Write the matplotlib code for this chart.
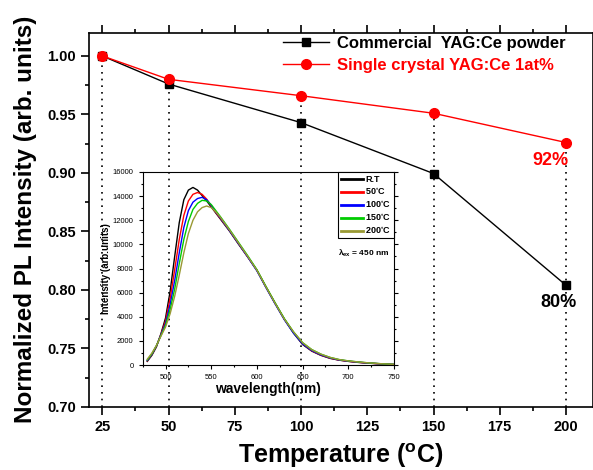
import matplotlib
matplotlib.use('Agg')
import matplotlib.pyplot as plt
from matplotlib.ticker import MultipleLocator

plt.rcParams['font.family'] = ['Liberation Sans', 'DejaVu Sans']
plt.rcParams['mathtext.default'] = 'regular'

# Données principales (intensité PL normalisée)
temps = [25, 50, 100, 150, 200]
commercial = [1.000, 0.976, 0.943, 0.8995, 0.804]
single_crystal = [1.000, 0.980, 0.966, 0.951, 0.926]

# Spectres de l'encart
wl = [480, 485, 490, 495, 500, 505, 510, 515, 520, 525, 530, 535, 540, 545,
      550, 555, 560, 570, 580, 590, 600, 610, 620, 630, 640, 650, 660, 670,
      680, 690, 700, 710, 720, 735, 750]
spec_rt = [300, 800, 1500, 2600, 3900, 6100, 9000, 11800, 13700, 14500, 14720,
           14500, 14050, 13600, 13100, 12600, 12100, 11100, 10000, 8950, 7850,
           6450, 5100, 3800, 2650, 1700, 1150, 800, 550, 400, 300, 220, 160, 90, 40]
spec_50 = [350, 850, 1550, 2550, 3650, 5500, 7900, 10400, 12400, 13600, 14150,
           14300, 14150, 13750, 13200, 12650, 12150, 11150, 10050, 8950, 7850,
           6450, 5100, 3800, 2700, 1750, 1180, 820, 570, 410, 310, 230, 170, 95, 45]
spec_100 = [380, 880, 1580, 2500, 3450, 5000, 7000, 9300, 11400, 12800, 13500,
            13800, 13900, 13700, 13250, 12700, 12200, 11150, 10050, 8950, 7800,
            6400, 5050, 3750, 2650, 1750, 1200, 840, 590, 420, 320, 240, 175, 100, 45]
spec_150 = [420, 920, 1600, 2450, 3300, 4600, 6300, 8400, 10400, 11900, 12900,
            13400, 13650, 13600, 13300, 12800, 12300, 11250, 10150, 9050, 7900,
            6500, 5150, 3850, 2750, 1850, 1280, 900, 630, 450, 340, 260, 190, 110, 50]
spec_200 = [480, 980, 1620, 2400, 3150, 4250, 5700, 7450, 9300, 10900, 12000,
            12700, 13050, 13180, 13050, 12700, 12250, 11200, 10100, 9000, 7850,
            6450, 5100, 3800, 2750, 1850, 1270, 900, 630, 450, 340, 260, 190, 110, 50]
spec_labels = ['R.T', '50$^{\\circ}$C', '100$^{\\circ}$C', '150$^{\\circ}$C', '200$^{\\circ}$C']
spec_colors = ['black', '#ff0000', '#0000ff', '#00cc00', '#999933']

fig = plt.figure(figsize=(5.93, 4.70), dpi=100)
W, H = 593.0, 470.0
ax = fig.add_axes([89 / W, 1 - 407 / H, (592.5 - 89) / W, (407 - 32.5) / H])

# Lignes verticales pointillées
for t, a, b in zip(temps, commercial, single_crystal):
    ax.plot([t, t], [0.70, max(a, b)], color='black', ls=(0, (1, 3)), lw=1.2, zorder=1)

ax.plot(temps, commercial, '-s', color='black', lw=1, ms=6,
        label='Commercial  YAG:Ce powder', zorder=3)
ax.plot(temps, single_crystal, '-o', color='#ff0000', lw=1, ms=7,
        label='Single crystal YAG:Ce 1at%', zorder=4)

ax.set_xlim(20, 210)
ax.set_ylim(0.70, 1.02)
ax.xaxis.set_major_locator(MultipleLocator(25))
ax.xaxis.set_minor_locator(MultipleLocator(12.5))
ax.yaxis.set_major_locator(MultipleLocator(0.05))
ax.yaxis.set_minor_locator(MultipleLocator(0.025))
ax.yaxis.set_major_formatter(matplotlib.ticker.FormatStrFormatter('%.2f'))
ax.tick_params(which='both', direction='out', top=True, right=False, width=1.2)
ax.tick_params(which='major', length=6, labelsize=10.5)
ax.tick_params(which='minor', length=3)
for lab in ax.get_xticklabels() + ax.get_yticklabels():
    lab.set_fontweight('bold')
for s in ax.spines.values():
    s.set_linewidth(1.2)

ax.set_xlabel('Temperature ($^\\mathregular{o}$C)', fontsize=18, fontweight='bold', labelpad=5)
ax.set_ylabel('Normalized PL Intensity (arb. units)', fontsize=17.5, fontweight='bold', labelpad=7)

leg = ax.legend(loc='upper left', bbox_to_anchor=(0.355, 1.03), frameon=False,
                prop={'size': 12, 'weight': 'bold'}, handlelength=2.8,
                handletextpad=0.45, labelspacing=0.4)
leg.get_texts()[1].set_color('#ff0000')

ax.text(194, 0.9106, '92%', color='#ff0000', fontsize=13, fontweight='bold',
        ha='center', va='center')
ax.text(197, 0.7896, '80%', color='black', fontsize=13, fontweight='bold',
        ha='center', va='center')

# Encart : spectres PL
ins = fig.add_axes([142.7 / W, 1 - 365 / H, (394 - 142.7) / W, (365 - 172) / H])
ins.patch.set_alpha(0)
for spec, lab, col in zip([spec_rt, spec_50, spec_100, spec_150, spec_200],
                          spec_labels, spec_colors):
    ins.plot(wl, spec, color=col, lw=1, label=lab)
ins.set_xlim(475, 750)
ins.set_ylim(0, 16000)
ins.xaxis.set_major_locator(MultipleLocator(50))
ins.xaxis.set_minor_locator(MultipleLocator(25))
ins.yaxis.set_major_locator(MultipleLocator(2000))
ins.yaxis.set_minor_locator(MultipleLocator(1000))
ins.tick_params(which='both', direction='out', right=True, labelsize=5.5, width=0.8)
ins.tick_params(which='major', length=3)
ins.tick_params(which='minor', length=1.5)
ins.set_xlabel('wavelength(nm)', fontsize=10, fontweight='bold', labelpad=1)
ins.set_ylabel('Intensity (arb.units)', fontsize=7, fontweight='bold', labelpad=1)
ileg = ins.legend(loc='upper right', borderaxespad=0, fancybox=False,
                  edgecolor='black', prop={'size': 6.5, 'weight': 'bold'},
                  handlelength=2.4, handletextpad=0.3, labelspacing=0.3,
                  borderpad=0.3, framealpha=1)
ileg.get_frame().set_linewidth(0.8)
for line in ileg.get_lines():
    line.set_linewidth(2)
ins.text(0.777, 0.58, '$\\lambda_{ex}$ = 450 nm', transform=ins.transAxes,
         fontsize=6, fontweight='bold', ha='left', va='center')

fig.savefig('out.png', dpi=100)
